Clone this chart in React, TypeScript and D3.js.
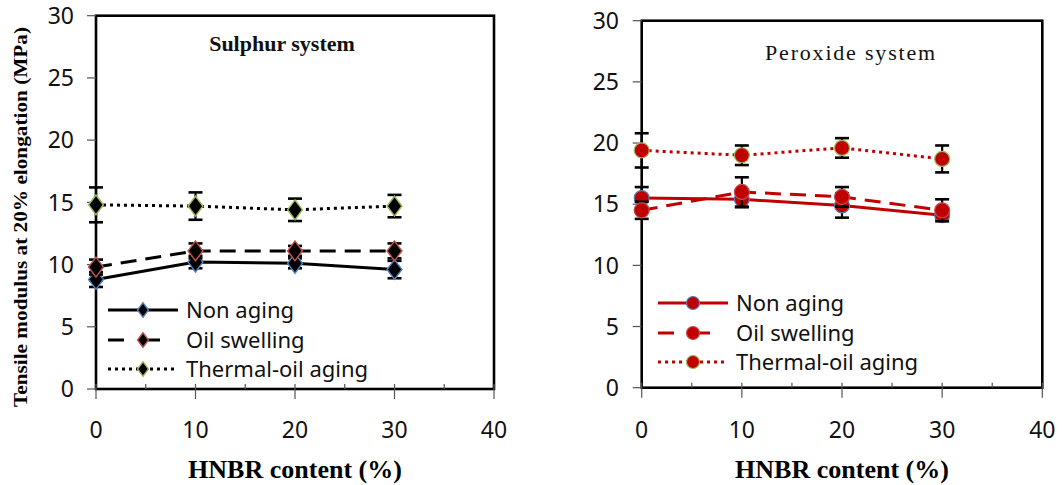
import { scaleLinear, line, symbol, symbolDiamond, range } from "d3";

// shared x categories (HNBR content, %)
const hnbr = [0, 10, 20, 30];
const seriesNames = ["Non aging", "Oil swelling", "Thermal-oil aging"];
const yTicks = [0, 5, 10, 15, 20, 25, 30];
const xTicks = [0, 10, 20, 30, 40];

// Sulphur system
const sulNonAging = [8.8, 10.2, 10.1, 9.6];
const sulNonAgingErr = [0.6, 0.5, 0.4, 0.7];
const sulOilSwelling = [9.8, 11.1, 11.1, 11.1];
const sulOilSwellingErr = [0.6, 0.6, 0.4, 0.6];
const sulThermal = [14.8, 14.7, 14.4, 14.7];
const sulThermalErr = [1.4, 1.1, 0.9, 0.9];

// Peroxide system
const perNonAging = [15.5, 15.4, 14.9, 14.1];
const perNonAgingErr = [0.9, 0.65, 1.0, 0.3];
const perOilSwelling = [14.5, 16.0, 15.6, 14.5];
const perOilSwellingErr = [0.7, 1.2, 0.8, 0.9];
const perThermal = [19.4, 19.0, 19.6, 18.7];
const perThermalErr = [1.4, 0.8, 0.8, 1.1];

const dashStyles = ["none", "16,9", "3,4"];
const outlineColors = ["#4f81bd", "#c0504d", "#9bbb59"];

type Panel = {
  title: string;
  titleBold: boolean;
  titleX: number;
  titleY: number;
  left: number;
  right: number;
  top: number;
  bottom: number;
  lineColor: string;
  fill: string;
  marker: "diamond" | "circle";
  values: number[][];
  errors: number[][];
  legendX: number;
  legendY: number[];
  labelEnd: number;
};

const panels: Panel[] = [
  {
    title: "Sulphur system",
    titleBold: true,
    titleX: 282,
    titleY: 43,
    left: 96,
    right: 494,
    top: 15.7,
    bottom: 389,
    lineColor: "#000",
    fill: "#000",
    marker: "diamond",
    values: [sulNonAging, sulOilSwelling, sulThermal],
    errors: [sulNonAgingErr, sulOilSwellingErr, sulThermalErr],
    legendX: 108,
    legendY: [310, 340, 369],
    labelEnd: 74,
  },
  {
    title: "Peroxide system",
    titleBold: false,
    titleX: 851,
    titleY: 52,
    left: 641.7,
    right: 1042.3,
    top: 20.7,
    bottom: 387.7,
    lineColor: "#c00000",
    fill: "#c00000",
    marker: "circle",
    values: [perNonAging, perOilSwelling, perThermal],
    errors: [perNonAgingErr, perOilSwellingErr, perThermalErr],
    legendX: 658,
    legendY: [303, 333, 362],
    labelEnd: 619,
  },
];

const tickFont = "'Noto Sans', 'Open Sans', sans-serif";
const serif = "'Liberation Serif', 'DejaVu Serif', serif";

function Marker({ kind, x, y, size, fill, stroke }: any) {
  if (kind === "diamond") {
    const d = symbol(symbolDiamond, size * size * 0.5)();
    return (
      <path
        d={d || ""}
        transform={`translate(${x},${y}) scale(1.3,1)`}
        fill={fill}
        stroke={stroke}
        strokeWidth={1.2}
      />
    );
  }
  return <circle cx={x} cy={y} r={size / 2} fill={fill} stroke={stroke} strokeWidth={1.2} />;
}

function PanelChart({ p }: { p: Panel }) {
  const x = scaleLinear().domain([0, 40]).range([p.left, p.right]);
  const y = scaleLinear().domain([0, 30]).range([p.bottom, p.top]);
  const path = line<number>()
    .x((_, i) => x(hnbr[i]))
    .y((d) => y(d));
  const markerSize = 15;
  const legendMarker = p.marker === "diamond" ? 11 : 13;

  return (
    <g>
      {/* frame */}
      <rect
        x={p.left}
        y={p.top}
        width={p.right - p.left}
        height={p.bottom - p.top}
        fill="none"
        stroke="#000"
        strokeWidth={2.6}
      />
      {/* y ticks */}
      {yTicks.map((t) => (
        <g key={"y" + t}>
          <line x1={p.left - 9} x2={p.left} y1={y(t)} y2={y(t)} stroke="#555" strokeWidth={1.2} />
          <text
            x={p.labelEnd}
            y={y(t)}
            dy="0.36em"
            textAnchor="end"
            fontFamily={tickFont}
            fontSize={23}
            fill="#111"
          >
            {t}
          </text>
        </g>
      ))}
      {/* x ticks */}
      {range(0, 41, 5).map((t) => (
        <line
          key={"xm" + t}
          x1={x(t)}
          x2={x(t)}
          y1={p.bottom - 5}
          y2={t % 10 === 0 ? p.bottom + 10 : p.bottom}
          stroke="#555"
          strokeWidth={1.2}
        />
      ))}
      {xTicks.map((t) => (
        <text
          key={"xl" + t}
          x={x(t)}
          y={430}
          dy="0.36em"
          textAnchor="middle"
          fontFamily={tickFont}
          fontSize={23}
          fill="#111"
        >
          {t}
        </text>
      ))}
      <text
        x={(p.left + p.right) / 2}
        y={478}
        textAnchor="middle"
        fontFamily={serif}
        fontWeight="bold"
        fontSize={26}
        fill="#000"
      >
        HNBR content (%)
      </text>
      <text
        x={p.titleX}
        y={p.titleY}
        dy="0.35em"
        textAnchor="middle"
        fontFamily={serif}
        fontWeight={p.titleBold ? "bold" : "normal"}
        fontSize={22}
        letterSpacing={p.titleBold ? 0 : 1.8}
        fill="#111"
      >
        {p.title}
      </text>
      {/* series */}
      {p.values.map((vals, si) => (
        <g key={"s" + si}>
          <path
            d={path(vals) || ""}
            fill="none"
            stroke={p.lineColor}
            strokeWidth={3}
            strokeDasharray={dashStyles[si]}
          />
          {vals.map((v, i) => {
            const e = p.errors[si][i];
            const cx = x(hnbr[i]);
            return (
              <g key={"e" + i} stroke="#000" strokeWidth={2.2}>
                <line x1={cx} x2={cx} y1={y(v - e)} y2={y(v + e)} />
                <line x1={cx - 7} x2={cx + 7} y1={y(v - e)} y2={y(v - e)} strokeWidth={2.6} />
                <line x1={cx - 7} x2={cx + 7} y1={y(v + e)} y2={y(v + e)} strokeWidth={2.6} />
              </g>
            );
          })}
          {vals.map((v, i) => (
            <Marker
              key={"m" + i}
              kind={p.marker}
              x={x(hnbr[i])}
              y={y(v)}
              size={markerSize}
              fill={p.fill}
              stroke={outlineColors[si]}
            />
          ))}
        </g>
      ))}
      {/* legend */}
      {seriesNames.map((name, si) => (
        <g key={"l" + si}>
          <line
            x1={p.legendX}
            x2={p.legendX + 70}
            y1={p.legendY[si]}
            y2={p.legendY[si]}
            stroke={p.lineColor}
            strokeWidth={3}
            strokeDasharray={si === 1 ? "16,20" : dashStyles[si]}
          />
          <Marker
            kind={p.marker}
            x={p.legendX + 35}
            y={p.legendY[si]}
            size={legendMarker}
            fill={p.fill}
            stroke={outlineColors[si]}
          />
          <text
            x={p.legendX + 78}
            y={p.legendY[si]}
            dy="0.36em"
            fontFamily={tickFont}
            fontSize={22}
            fill="#111"
          >
            {name}
          </text>
        </g>
      ))}
    </g>
  );
}

export default function App() {
  return (
    <svg
      width={1062}
      height={485}
      style={{ position: "absolute", left: 0, top: 0, background: "#fff" }}
    >
      {panels.map((p, i) => (
        <PanelChart key={i} p={p} />
      ))}
      <text
        transform="translate(20,217) rotate(-90)"
        textAnchor="middle"
        dy="0.35em"
        fontFamily={serif}
        fontWeight="bold"
        fontSize={19}
        textLength={380}
        lengthAdjust="spacingAndGlyphs"
        fill="#000"
      >
        Tensile modulus at 20% elongation (MPa)
      </text>
    </svg>
  );
}
